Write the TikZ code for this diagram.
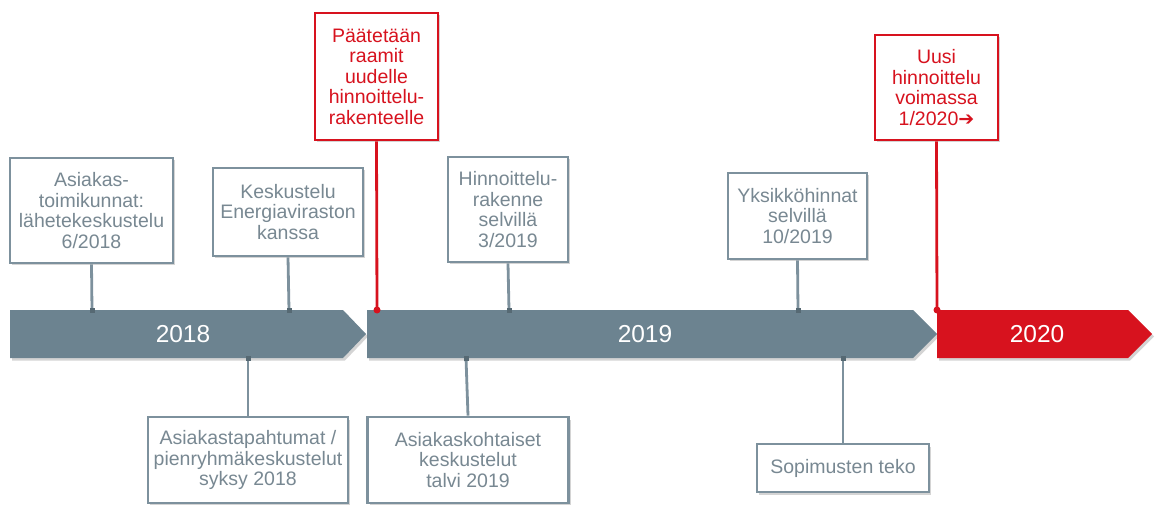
\documentclass[tikz,border=0pt]{standalone}
\usepackage{fontspec}
\setmainfont{Liberation Sans}
\newfontfamily\symfont{DejaVu Sans}
\usetikzlibrary{shadows}
\definecolor{bargray}{RGB}{108,131,144}
\definecolor{boxgray}{RGB}{125,145,157}
\definecolor{txtgray}{RGB}{120,136,146}
\definecolor{tlred}{RGB}{215,18,30}
\tikzset{
  shad/.style={drop shadow={opacity=0.28,shadow xshift=2pt,shadow yshift=-2.5pt,fill=black!60}},
  evbox/.style={draw=boxgray,line width=2.8pt,fill=white,shad,align=center,
     text=txtgray,font=\fontsize{19.5}{20.5}\selectfont,inner sep=0pt},
  redbox/.style={evbox,draw=tlred,text=tlred},
  conn/.style={draw=boxgray,line width=2.8pt},
  redconn/.style={draw=tlred,line width=2.8pt},
  yearlbl/.style={text=white,font=\fontsize{24.5}{26}\selectfont},
  gmark/.style={fill=bargray!80!black,minimum size=5pt,inner sep=0pt,rectangle},
  rdot/.style={fill=tlred,circle,minimum size=7pt,inner sep=0pt}
}
\begin{document}
\begin{tikzpicture}[x=1pt,y=-1pt]
\useasboundingbox (0,0) rectangle (1157,505);
% bars
\fill[bargray,shad] (10,310) -- (343,310) -- (366,334) -- (343,358) -- (10,358) -- cycle;
\fill[bargray,shad] (367,310) -- (913,310) -- (937,334) -- (913,358) -- (367,358) -- cycle;
\fill[tlred,shad] (937,310) -- (1128,310) -- (1152,334) -- (1128,358) -- (937,358) -- cycle;
\node[yearlbl] (y18) at (183,334) {2018};
\node[yearlbl] (y19) at (645,334) {2019};
\node[yearlbl] (y20) at (1037,334) {2020};
% anchor points on bars
\coordinate (p1) at (92,310);
\coordinate (p2) at (289,310);
\coordinate (p3) at (377,310);
\coordinate (p4) at (509,310);
\coordinate (p5) at (798,310);
\coordinate (p6) at (937,310);
\coordinate (q1) at (248,358);
\coordinate (q2) at (466,358);
\coordinate (q3) at (843,358);
% boxes
\node[evbox,minimum width=163pt,minimum height=105pt] (b1) at (91.5,210.5) {Asiakas-\\toimikunnat:\\lähetekeskustelu\\6/2018};
\node[evbox,minimum width=150pt,minimum height=88pt] (b2) at (288,212) {Keskustelu\\Energiaviraston\\kanssa};
\node[redbox,minimum width=123pt,minimum height=127pt] (r1) at (376.5,76.5) {Päätetään\\raamit\\uudelle\\hinnoittelu-\\rakenteelle};
\node[evbox,minimum width=120pt,minimum height=105pt] (b3) at (508,209.5) {Hinnoittelu-\\rakenne\\selvillä\\3/2019};
\node[redbox,minimum width=123pt,minimum height=105pt] (r2) at (936.5,87.5) {Uusi\\hinnoittelu\\voimassa\\1/2020{\symfont\fontsize{19}{19}\selectfont\bfseries ➔}};
\node[evbox,minimum width=139pt,minimum height=86pt] (b4) at (797.5,216) {Yksikköhinnat\\selvillä\\10/2019};
\node[evbox,minimum width=200pt,minimum height=86pt] (b5) at (248,460) {Asiakastapahtumat /\\pienryhmäkeskustelut\\syksy 2018};
\node[evbox,minimum width=201pt,minimum height=86pt] (b6) at (468,460) {Asiakaskohtaiset\\keskustelut\\talvi 2019};
\node[evbox,minimum width=172pt,minimum height=48pt] (b7) at (843,468) {Sopimusten teko};
% connectors
\draw[conn] (b1.south) -- (p1);
\draw[conn] (b2.south) -- (p2);
\draw[conn] (b3.south) -- (p4);
\draw[conn] (b4.south) -- (p5);
\draw[conn] (b5.north) -- (q1);
\draw[conn] (b6.north) -- (q2);
\draw[conn] (b7.north) -- (q3);
\draw[redconn] (r1.south) -- (p3);
\draw[redconn] (r2.south) -- (p6);
\foreach \p in {p1,p2,p4,p5,q1,q2,q3} \node[gmark] at (\p) {};
\node[rdot] (d1) at (p3) {};
\node[rdot] (d2) at (p6) {};
\end{tikzpicture}
\end{document}
